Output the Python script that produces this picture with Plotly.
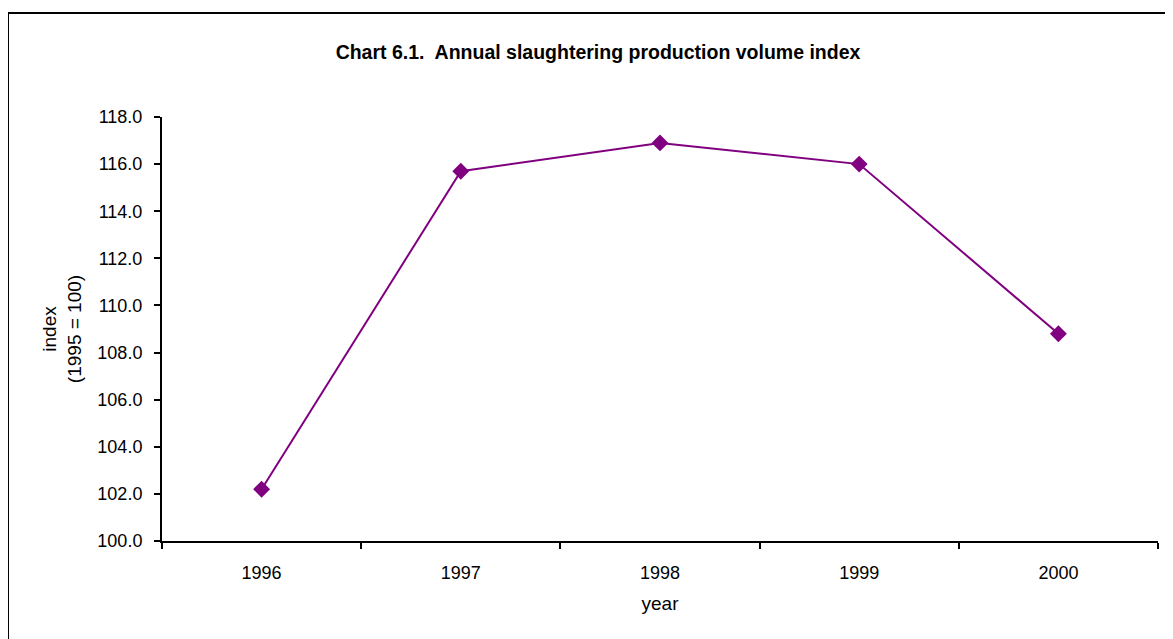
import plotly.graph_objects as go

# annual slaughtering production volume index (1995 = 100)
years = ["1996", "1997", "1998", "1999", "2000"]
index_values = [102.2, 115.7, 116.9, 116.0, 108.8]

W, H = 1173, 639
# the page body adds an 8px margin, so everything sits 8px in from the window
L, R, T, B = 154, 23, 109, 106

fig = go.Figure(go.Scatter(
  x=years, y=index_values, mode="lines+markers",
  line=dict(color="#800080", width=2),
  marker=dict(symbol="diamond", size=13, color="#800080"),
  showlegend=False,
))

tick_font = dict(family="Liberation Sans, Arial", size=18, color="black")
title_font = dict(family="Liberation Sans, Arial", size=19, color="black")

fig.update_xaxes(
  type="category", range=[-0.5, len(years) - 0.5],
  tickson="boundaries", ticks="outside", ticklen=6, tickwidth=2,
  tickcolor="black", showline=True, linecolor="black", linewidth=2,
  showgrid=False, tickfont=tick_font, ticklabelstandoff=14,
  title=dict(text="year", font=title_font, standoff=15),
)
fig.update_yaxes(
  range=[100, 118], dtick=2, tickformat=".1f", ticks="outside", ticklen=6, tickwidth=2,
  tickcolor="black", showline=True, linecolor="black", linewidth=2,
  showgrid=False, zeroline=False, tickfont=tick_font, ticklabelstandoff=8,
  title=dict(text="index<br>(1995 = 100)", font=title_font, standoff=11),
)

# outer chart frame (runs off the right and bottom of the page)
pw, ph = W - L - R, H - T - B
fig.add_shape(
  type="rect", xref="paper", yref="paper",
  x0=(0 - L) / pw, x1=(W + 20 - L) / pw,
  y0=-(B + 20) / ph, y1=1 + (T - 5) / ph,
  line=dict(color="black", width=2), fillcolor="rgba(0,0,0,0)",
)

fig.update_layout(
  width=W, height=H,
  margin=dict(l=L, r=R, t=T, b=B),
  paper_bgcolor="white", plot_bgcolor="white",
  title=dict(
    text="<b>Chart 6.1.  Annual slaughtering production volume index</b>",
    font=dict(family="Liberation Sans, Arial", size=19.5, color="black"),
    x=590 / W, xanchor="center", y=1 - 44 / H, yanchor="middle",
  ),
)

fig.write_html("out.html")
